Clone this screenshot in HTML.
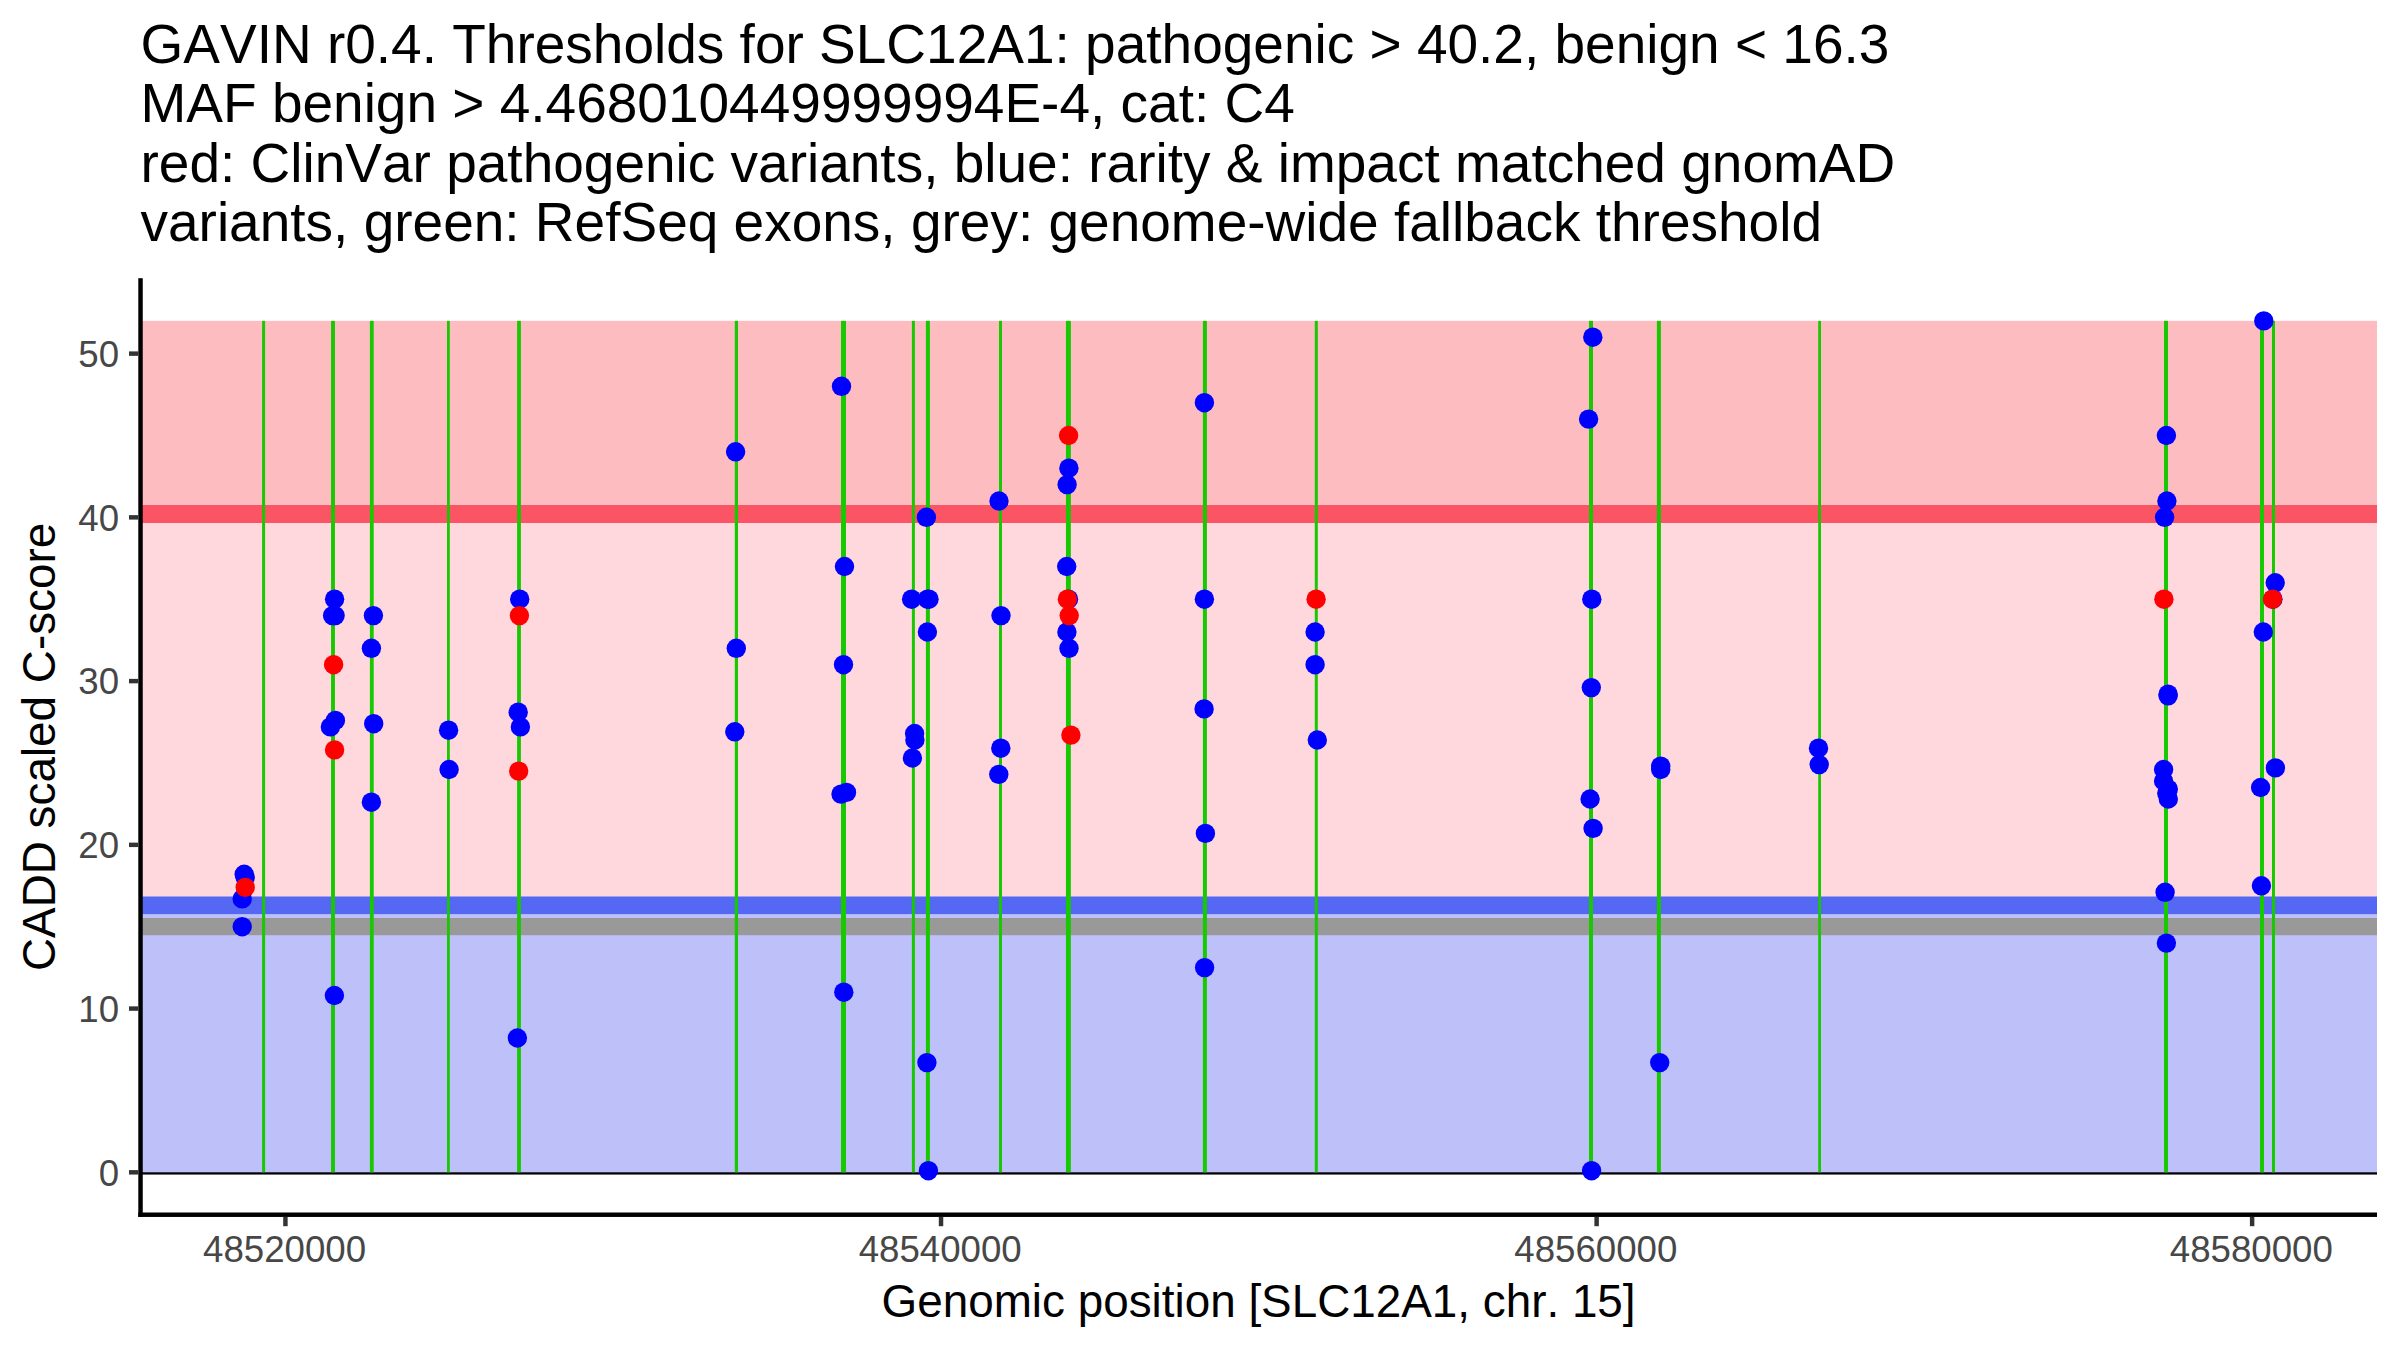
<!DOCTYPE html>
<html lang="en"><head><meta charset="utf-8"><title>GAVIN SLC12A1</title>
<style>html,body{margin:0;padding:0;background:#fff}body{width:2400px;height:1350px;overflow:hidden}svg{display:block}text{font-family:"Liberation Sans",Arial,Helvetica,sans-serif;font-kerning:none;font-variant-ligatures:none}</style></head><body>
<svg width="2400" height="1350" viewBox="0 0 2400 1350">
<rect x="0" y="0" width="2400" height="1350" fill="#ffffff"/>
<g font-size="55" fill="#000">
<text x="140.5" y="62.9">GAVIN r0.4. Thresholds for SLC12A1: pathogenic &gt; 40.2, benign &lt; 16.3</text>
<text x="140.5" y="122.1">MAF benign &gt; 4.468010449999994E-4, cat: C4</text>
<text x="140.5" y="181.9">red: ClinVar pathogenic variants, blue: rarity &amp; impact matched gnomAD</text>
<text x="140.5" y="241.0">variants, green: RefSeq exons, grey: genome-wide fallback threshold</text>
</g>
<rect x="140.5" y="1170.10" width="2236.5" height="4.45" fill="#000"/>
<rect x="140.50" y="320.85" width="2236.50" height="193.21" fill="#fdbcc0"/>
<rect x="140.50" y="514.07" width="2236.50" height="391.34" fill="#fed8dc"/>
<rect x="140.50" y="905.40" width="2236.50" height="266.90" fill="#bec0fa"/>
<rect x="140.50" y="505.00" width="2236.50" height="18.00" fill="#fb5565"/>
<rect x="140.50" y="896.50" width="2236.50" height="17.60" fill="#5468f3"/>
<rect x="140.50" y="918.00" width="2236.50" height="17.20" fill="#999999"/>
<g fill="#18c800">
<rect x="262.10" y="320.85" width="3.00" height="851.45"/>
<rect x="331.05" y="320.85" width="3.90" height="851.45"/>
<rect x="369.90" y="320.85" width="3.80" height="851.45"/>
<rect x="447.00" y="320.85" width="2.80" height="851.45"/>
<rect x="517.10" y="320.85" width="3.80" height="851.45"/>
<rect x="734.80" y="320.85" width="3.20" height="851.45"/>
<rect x="841.00" y="320.85" width="5.00" height="851.45"/>
<rect x="911.90" y="320.85" width="3.00" height="851.45"/>
<rect x="925.90" y="320.85" width="4.00" height="851.45"/>
<rect x="999.00" y="320.85" width="3.00" height="851.45"/>
<rect x="1065.95" y="320.85" width="4.90" height="851.45"/>
<rect x="1202.90" y="320.85" width="4.00" height="851.45"/>
<rect x="1314.80" y="320.85" width="3.00" height="851.45"/>
<rect x="1589.00" y="320.85" width="4.00" height="851.45"/>
<rect x="1656.90" y="320.85" width="4.00" height="851.45"/>
<rect x="1818.20" y="320.85" width="2.80" height="851.45"/>
<rect x="2164.00" y="320.85" width="4.00" height="851.45"/>
<rect x="2260.00" y="320.85" width="4.00" height="851.45"/>
<rect x="2272.00" y="320.85" width="3.00" height="851.45"/>
</g>
<g fill="#0000ff">
<circle cx="244.2" cy="874.3" r="9.7"/>
<circle cx="245.2" cy="877.6" r="9.7"/>
<circle cx="242.2" cy="898.9" r="9.7"/>
<circle cx="242.2" cy="926.7" r="9.7"/>
<circle cx="334.6" cy="599.2" r="9.7"/>
<circle cx="332.6" cy="615.6" r="9.7"/>
<circle cx="335.1" cy="615.6" r="9.7"/>
<circle cx="335.4" cy="720.4" r="9.7"/>
<circle cx="330.4" cy="726.9" r="9.7"/>
<circle cx="334.4" cy="995.5" r="9.7"/>
<circle cx="373.4" cy="615.6" r="9.7"/>
<circle cx="371.4" cy="648.3" r="9.7"/>
<circle cx="373.7" cy="723.7" r="9.7"/>
<circle cx="371.4" cy="802.2" r="9.7"/>
<circle cx="448.6" cy="730.2" r="9.7"/>
<circle cx="449.1" cy="769.5" r="9.7"/>
<circle cx="519.7" cy="599.2" r="9.7"/>
<circle cx="518.2" cy="712.2" r="9.7"/>
<circle cx="520.4" cy="726.9" r="9.7"/>
<circle cx="517.4" cy="1038.0" r="9.7"/>
<circle cx="735.6" cy="451.8" r="9.7"/>
<circle cx="736.3" cy="648.3" r="9.7"/>
<circle cx="734.8" cy="731.8" r="9.7"/>
<circle cx="841.5" cy="386.3" r="9.7"/>
<circle cx="844.5" cy="566.5" r="9.7"/>
<circle cx="843.5" cy="664.7" r="9.7"/>
<circle cx="841.0" cy="794.1" r="9.7"/>
<circle cx="846.5" cy="792.4" r="9.7"/>
<circle cx="843.8" cy="992.2" r="9.7"/>
<circle cx="911.6" cy="599.2" r="9.7"/>
<circle cx="927.5" cy="599.2" r="9.7"/>
<circle cx="929.0" cy="599.2" r="9.7"/>
<circle cx="926.4" cy="517.3" r="9.7"/>
<circle cx="927.4" cy="632.0" r="9.7"/>
<circle cx="914.6" cy="733.5" r="9.7"/>
<circle cx="914.9" cy="740.0" r="9.7"/>
<circle cx="912.4" cy="758.0" r="9.7"/>
<circle cx="926.9" cy="1062.6" r="9.7"/>
<circle cx="928.4" cy="1170.7" r="9.7"/>
<circle cx="999.0" cy="501.0" r="9.7"/>
<circle cx="1001.0" cy="615.6" r="9.7"/>
<circle cx="1000.8" cy="748.2" r="9.7"/>
<circle cx="998.8" cy="774.4" r="9.7"/>
<circle cx="1068.9" cy="468.2" r="9.7"/>
<circle cx="1067.1" cy="484.6" r="9.7"/>
<circle cx="1066.7" cy="566.5" r="9.7"/>
<circle cx="1068.5" cy="599.2" r="9.7"/>
<circle cx="1066.9" cy="632.0" r="9.7"/>
<circle cx="1069.0" cy="648.3" r="9.7"/>
<circle cx="1204.4" cy="402.7" r="9.7"/>
<circle cx="1204.4" cy="599.2" r="9.7"/>
<circle cx="1204.1" cy="708.9" r="9.7"/>
<circle cx="1205.4" cy="833.4" r="9.7"/>
<circle cx="1204.6" cy="967.6" r="9.7"/>
<circle cx="1315.1" cy="632.0" r="9.7"/>
<circle cx="1315.1" cy="664.7" r="9.7"/>
<circle cx="1317.3" cy="740.0" r="9.7"/>
<circle cx="1592.8" cy="337.2" r="9.7"/>
<circle cx="1588.6" cy="419.1" r="9.7"/>
<circle cx="1591.8" cy="599.2" r="9.7"/>
<circle cx="1591.3" cy="687.6" r="9.7"/>
<circle cx="1590.1" cy="799.0" r="9.7"/>
<circle cx="1593.1" cy="828.4" r="9.7"/>
<circle cx="1591.6" cy="1170.7" r="9.7"/>
<circle cx="1660.7" cy="766.2" r="9.7"/>
<circle cx="1660.7" cy="769.5" r="9.7"/>
<circle cx="1659.7" cy="1062.6" r="9.7"/>
<circle cx="1818.5" cy="748.2" r="9.7"/>
<circle cx="1819.2" cy="764.6" r="9.7"/>
<circle cx="2166.4" cy="435.5" r="9.7"/>
<circle cx="2166.9" cy="501.0" r="9.7"/>
<circle cx="2164.6" cy="517.3" r="9.7"/>
<circle cx="2168.1" cy="694.2" r="9.7"/>
<circle cx="2168.1" cy="695.8" r="9.7"/>
<circle cx="2163.6" cy="769.5" r="9.7"/>
<circle cx="2163.6" cy="781.0" r="9.7"/>
<circle cx="2168.3" cy="789.1" r="9.7"/>
<circle cx="2166.8" cy="793.2" r="9.7"/>
<circle cx="2168.3" cy="799.0" r="9.7"/>
<circle cx="2165.1" cy="892.3" r="9.7"/>
<circle cx="2166.4" cy="943.1" r="9.7"/>
<circle cx="2263.8" cy="320.9" r="9.7"/>
<circle cx="2263.3" cy="632.0" r="9.7"/>
<circle cx="2260.6" cy="787.5" r="9.7"/>
<circle cx="2261.4" cy="885.8" r="9.7"/>
<circle cx="2275.2" cy="582.8" r="9.7"/>
<circle cx="2272.9" cy="599.2" r="9.7"/>
<circle cx="2275.4" cy="767.9" r="9.7"/>
</g><g fill="#ff0000">
<circle cx="245.2" cy="887.4" r="9.7"/>
<circle cx="333.6" cy="664.7" r="9.7"/>
<circle cx="334.6" cy="749.9" r="9.7"/>
<circle cx="519.4" cy="615.6" r="9.7"/>
<circle cx="518.7" cy="771.1" r="9.7"/>
<circle cx="1068.6" cy="435.5" r="9.7"/>
<circle cx="1067.4" cy="599.2" r="9.7"/>
<circle cx="1069.2" cy="615.6" r="9.7"/>
<circle cx="1070.9" cy="735.1" r="9.7"/>
<circle cx="1316.1" cy="599.2" r="9.7"/>
<circle cx="2163.9" cy="599.2" r="9.7"/>
<circle cx="2272.6" cy="599.2" r="9.7"/>
</g>
<rect x="138.3" y="278.2" width="4.45" height="938.7" fill="#000"/>
<rect x="138.3" y="1212.5" width="2238.7" height="4.45" fill="#000"/>
<g fill="#333333">
<rect x="129.0" y="1170.10" width="9.3" height="4.45"/>
<rect x="129.0" y="1006.36" width="9.3" height="4.45"/>
<rect x="129.0" y="842.62" width="9.3" height="4.45"/>
<rect x="129.0" y="678.88" width="9.3" height="4.45"/>
<rect x="129.0" y="515.14" width="9.3" height="4.45"/>
<rect x="129.0" y="351.40" width="9.3" height="4.45"/>
<rect x="283.20" y="1216.9" width="4.45" height="9.3"/>
<rect x="938.80" y="1216.9" width="4.45" height="9.3"/>
<rect x="1594.40" y="1216.9" width="4.45" height="9.3"/>
<rect x="2249.90" y="1216.9" width="4.45" height="9.3"/>
</g>
<g font-size="36.67" fill="#474747">
<text x="119.1" y="1185.5" text-anchor="end">0</text>
<text x="119.1" y="1021.8" text-anchor="end">10</text>
<text x="119.1" y="858.0" text-anchor="end">20</text>
<text x="119.1" y="694.3" text-anchor="end">30</text>
<text x="119.1" y="530.5" text-anchor="end">40</text>
<text x="119.1" y="366.8" text-anchor="end">50</text>
<text x="284.6" y="1261.7" text-anchor="middle">48520000</text>
<text x="940.2" y="1261.7" text-anchor="middle">48540000</text>
<text x="1595.8" y="1261.7" text-anchor="middle">48560000</text>
<text x="2251.3" y="1261.7" text-anchor="middle">48580000</text>
</g>
<g font-size="45.83" fill="#000">
<text x="1258.6" y="1317.3" text-anchor="middle">Genomic position [SLC12A1, chr. 15]</text>
<text transform="translate(55.0,746.9) rotate(-90)" text-anchor="middle">CADD scaled C-score</text>
</g>
</svg></body></html>
